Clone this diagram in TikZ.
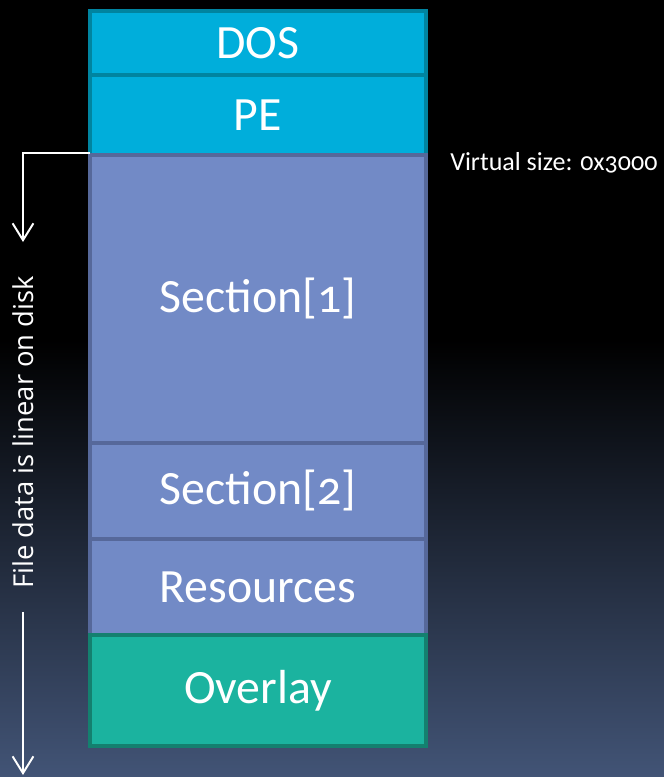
\documentclass[tikz,border=0pt]{standalone}
\usepackage{fontspec}
\setmainfont{Carlito}[Numbers=OldStyle]
\newfontfamily\sidefont{Open Sans}
\usepackage{tikz}
\usetikzlibrary{positioning,arrows.meta}

\definecolor{hdrfill}{RGB}{0,174,219}
\definecolor{hdrline}{RGB}{0,132,160}
\definecolor{secfill}{RGB}{114,138,198}
\definecolor{secline}{RGB}{86,104,154}
\definecolor{ovlfill}{RGB}{27,179,159}
\definecolor{ovlline}{RGB}{20,128,111}
\definecolor{bgblue}{RGB}{66,84,118}

\tikzset{
    layer/.style={draw, line width=0.1cm, minimum width=8.4cm, inner sep=0pt, outer sep=0pt,
        text=white, font=\fontsize{34}{40}\selectfont},
    hdrbox/.style={layer, fill=hdrfill, draw=hdrline},
    secbox/.style={layer, fill=secfill, draw=secline},
    ovlbox/.style={layer, fill=ovlfill, draw=ovlline},
    flow/.style={draw=white, line width=1.4pt, -{Straight Barb[length=0.42cm, width=0.52cm]}}
}

\begin{document}
\begin{tikzpicture}
    % Background
    \useasboundingbox (0,0) rectangle (16.6,-19.425);
    \fill[black] (0,0) rectangle (16.6,-19.425);
    \shade[top color=black, bottom color=bgblue] (0,-8.5) rectangle (16.6,-19.425);

    % Layers
    \node[hdrbox, minimum height=1.59cm] (dos) at (6.45,-1.071) {DOS};
    \node[hdrbox, minimum height=2.01cm, below=0pt of dos] (pe) {PE};
    \node[secbox, minimum height=7.19cm, below=0pt of pe] (sec1) {Section[1]};
    \node[secbox, minimum height=2.4cm, below=0pt of sec1] (sec2) {Section[2]};
    \node[secbox, minimum height=2.41cm, below=0pt of sec2] (res) {Resources};
    \node[ovlbox, minimum height=2.78cm, below=0pt of res] (ovl) {Overlay};

    % Labels
    \node[anchor=west, inner sep=0pt, text=white, font=\fontsize{18.5}{22}\selectfont] (vsize)
        at ([xshift=0.6cm, yshift=-0.2cm]sec1.north east) {Virtual size: 0x3000};
    \node[rotate=90, text=white, font=\sidefont\fontsize{19.5}{23}\selectfont] (disk)
        at (0.575,-10.81) {File data is linear on disk};

    % Connections
    \coordinate (turn) at (0.575,-6.05);
    \coordinate (end) at (0.575,-19.375);
    \draw[flow] ([yshift=0.04cm]sec1.north west) -| (turn);
    \draw[flow, shorten <=0.45cm] (disk.west) -- (end);
\end{tikzpicture}
\end{document}
